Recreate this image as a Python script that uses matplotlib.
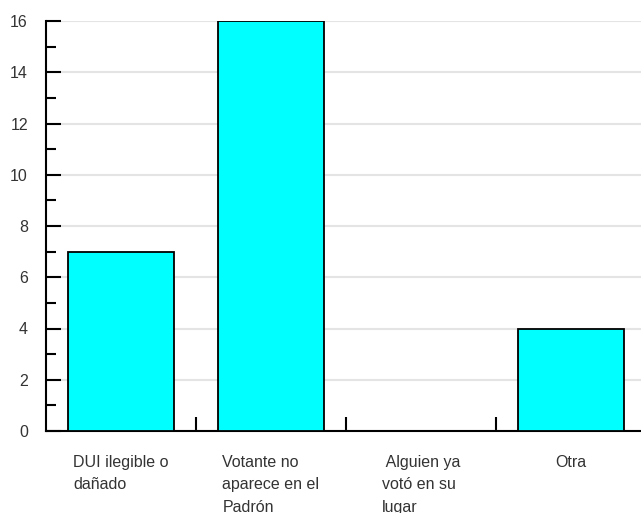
from matplotlib import pyplot as plt
from matplotlib.ticker import MultipleLocator, FixedLocator
import numpy as np

categories = ['DUI ilegible o\ndañado', 'Votante no\naparece en el\nPadrón',
              ' Alguien ya\nvotó en su\nlugar', 'Otra']
values = [7, 16, 0, 4]

plt.rcParams['font.family'] = ['Liberation Sans', 'DejaVu Sans']

fig = plt.figure(figsize=(6.41, 5.13), dpi=100)
ax = fig.add_axes([46 / 641, 82 / 513, 600 / 641, 410 / 513])

x = np.arange(len(categories))
ax.bar(x, values, width=0.71, color='#00ffff', edgecolor='black', linewidth=1.3, zorder=3)

ax.set_xlim(-0.5, 3.5)
ax.set_ylim(0, 16)

ax.yaxis.set_major_locator(MultipleLocator(2))
ax.yaxis.set_minor_locator(MultipleLocator(1))
ax.grid(axis='y', color='#e4e4e4', linewidth=1.5, zorder=0)

ax.set_xticks(x)
ax.set_xticklabels(categories, ha='center', multialignment='left', linespacing=1.65)
ax.xaxis.set_minor_locator(FixedLocator([0.5, 1.5, 2.5]))

ax.tick_params(axis='y', which='major', direction='in', length=11, width=1.5,
               labelsize=11.5, labelcolor='#333333', pad=13)
ax.tick_params(axis='y', which='minor', direction='in', length=7, width=1.5)
ax.tick_params(axis='x', which='major', length=0, labelsize=11.5, labelcolor='#333333', pad=17)
ax.tick_params(axis='x', which='minor', direction='in', length=10, width=1.5)

for s in ['top', 'right']:
    ax.spines[s].set_visible(False)
for s in ['left', 'bottom']:
    ax.spines[s].set_linewidth(1.5)

fig.savefig('out.png', dpi=100)
